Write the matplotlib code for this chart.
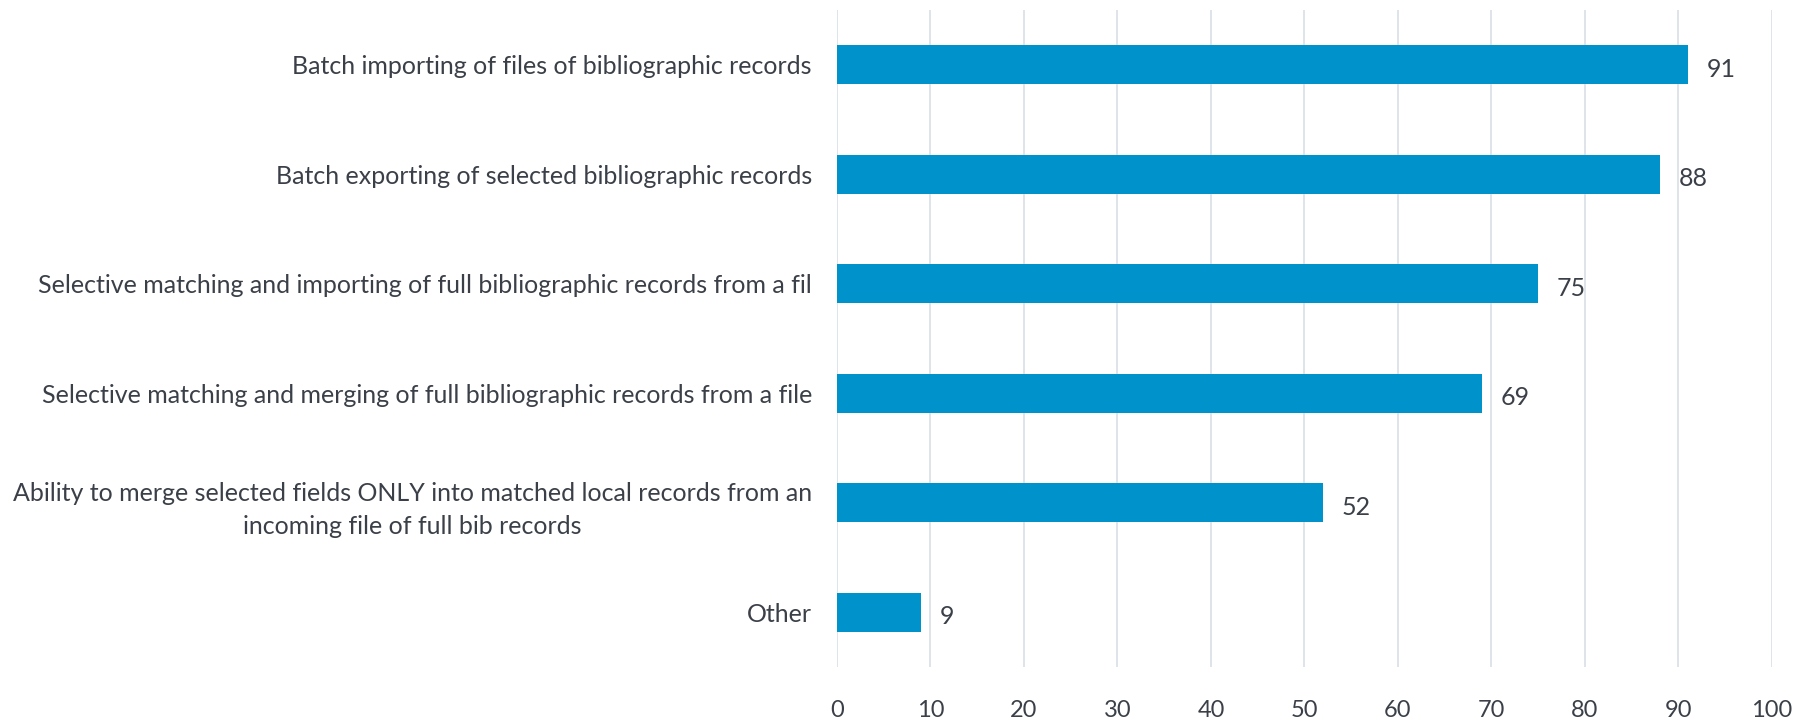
import matplotlib
matplotlib.use('Agg')
import matplotlib.pyplot as plt

plt.rcParams['font.family'] = ['Lato', 'DejaVu Sans']

categories = [
    'Batch importing of files of bibliographic records',
    'Batch exporting of selected bibliographic records',
    'Selective matching and importing of full bibliographic records from a fil',
    'Selective matching and merging of full bibliographic records from a file',
    'Ability to merge selected fields ONLY into matched local records from an\nincoming file of full bib records',
    'Other',
]
values = [91, 88, 75, 69, 52, 9]
xticks = list(range(0, 101, 10))

bar_color = '#0093CB'
text_color = '#3B4048'
grid_color = '#D9DFE6'

fig = plt.figure(figsize=(17.98, 7.2), dpi=100)
ax = fig.add_axes([0.4655, 0.0736, 0.52, 0.9124])

y = list(range(len(categories)))
ax.barh(y, values, height=0.356, color=bar_color, zorder=3)
ax.set_ylim(len(categories) - 0.5, -0.5)
ax.set_xlim(0, 100)
ax.set_xticks(xticks)
ax.set_yticks(y)
ax.set_yticklabels(categories, fontsize=18, color=text_color, ha='right',
                   multialignment='center', linespacing=1.55)
ax.tick_params(axis='y', length=0, pad=18)
ax.tick_params(axis='x', length=0, pad=24, labelsize=17, labelcolor=text_color)
ax.xaxis.grid(True, color=grid_color, linewidth=1.2, zorder=0)
for s in ax.spines.values():
    s.set_visible(False)

for yi, v in zip(y, values):
    ax.text(v + 2.0, yi + 0.04, str(v), va='center', ha='left', fontsize=18,
            color=text_color)

plt.savefig('out.png', dpi=100)
